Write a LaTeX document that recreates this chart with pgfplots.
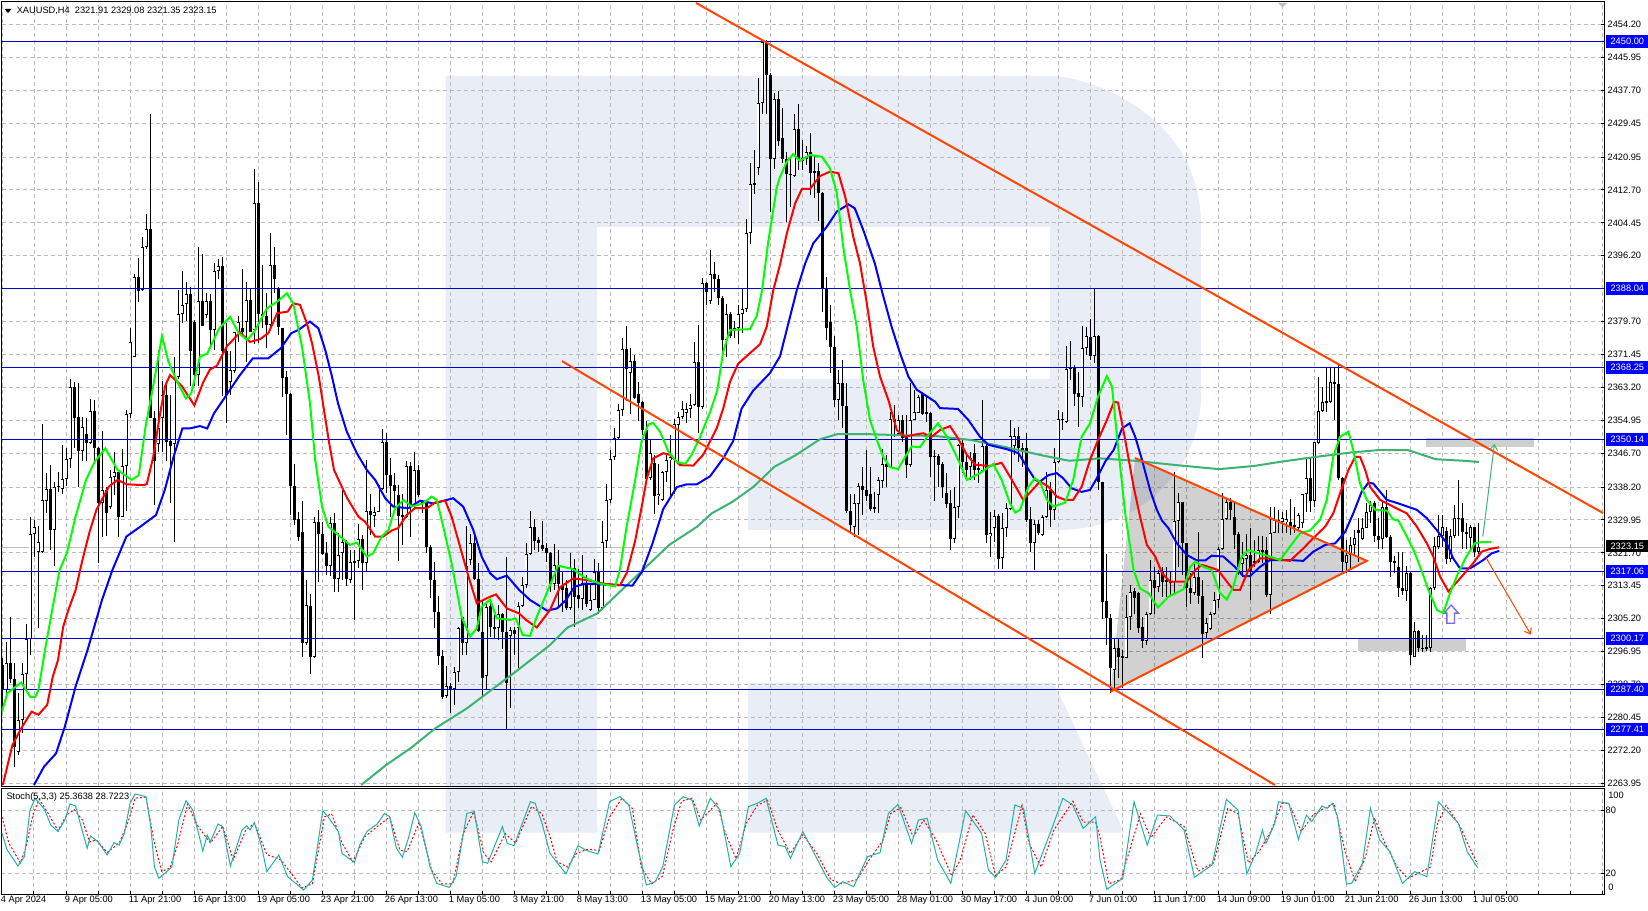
\documentclass[border=0pt]{standalone}
\usepackage{fontspec}
\setmainfont{Liberation Sans}
\usepackage{pgfplots}
\usepackage{pgfplotstable}
\pgfplotsset{compat=1.18}
\usetikzlibrary{arrows.meta}

\definecolor{wmark}{HTML}{E9EDF5}
\definecolor{gridc}{HTML}{BABABA}
\definecolor{hline}{HTML}{0000D8}
\definecolor{lblue}{HTML}{0000FF}
\definecolor{trend}{HTML}{FF4500}
\definecolor{lime}{HTML}{00FF00}
\definecolor{sgreen}{HTML}{3CB371}
\definecolor{teal2}{HTML}{20B2AA}
\definecolor{boxg}{HTML}{CFCFCF}
\definecolor{bidl}{HTML}{C0C0C0}
\definecolor{purp}{HTML}{7B68EE}
\newcommand{\lab}{\fontsize{6.95}{8.4}\selectfont}

% bar number, open, high, low, close
\pgfplotstableread{
i o h l c
0 2293.6 2295.3 2282 2287.3
1 2287.3 2299.4 2286 2294
2 2294 2305.7 2289 2290.2
3 2290.2 2294 2268.1 2273.1
4 2271.9 2286.5 2271 2279.8
5 2279.8 2294 2276.5 2291.3
6 2291.3 2303.9 2287.3 2300.2
7 2300 2330.7 2296 2326.5
8 2326.5 2330 2320.6 2328.1
9 2322 2328.4 2303 2324.4
10 2322 2354 2321.7 2335
11 2334.8 2341.7 2331.8 2337.6
12 2337.6 2343.8 2322.4 2327.5
13 2327.5 2339.5 2318.4 2338.2
14 2338.1 2342.1 2337 2338.6
15 2337.8 2348.7 2336.6 2340.2
16 2340.2 2348.1 2338.6 2345.3
17 2345.3 2365.4 2343 2363.4
18 2363.4 2364.5 2348 2355.6
19 2355.7 2364.3 2338.1 2347.3
20 2347.3 2355.8 2344.8 2353.2
21 2351.5 2355.6 2344.8 2349.3
22 2349.3 2360.2 2348.9 2357.4
23 2357.4 2360 2344.8 2348
24 2348 2348.2 2319.3 2334.1
25 2334.1 2352.4 2325.6 2337.4
26 2337.4 2338.1 2326 2331.8
27 2333.2 2342.6 2332.7 2340.8
28 2340.8 2347 2336.3 2342.1
29 2342.1 2342.1 2325.6 2330.8
30 2330.8 2347.7 2330.7 2343.5
31 2343.5 2357.5 2332.3 2356.5
32 2356.5 2378 2355.6 2374.6
33 2370.8 2391.6 2370.8 2390.8
34 2390.8 2395.6 2384.7 2387.5
35 2387.5 2400.8 2387.3 2398.3
36 2398.3 2406.6 2398 2403
37 2403 2431.7 2355.6 2355.6
38 2355.6 2357.4 2333.8 2344.8
39 2349 2372.6 2347 2353
40 2355.6 2364.8 2347 2361.4
41 2361.4 2364 2344.8 2349.6
42 2349.7 2361.4 2334.1 2348.6
43 2348.9 2370.8 2324.4 2365.9
44 2365.9 2387.6 2365.4 2381.5
45 2381.7 2392.3 2379.3 2383.8
46 2384 2389.6 2379.8 2386.6
47 2386.6 2388.3 2363.6 2372.4
48 2379.6 2380 2363.6 2366.3
49 2366.3 2398.4 2363.6 2384.8
50 2384.8 2396.6 2378.7 2378.7
51 2381.3 2386.9 2380.6 2384.8
52 2384.8 2386.5 2373 2377.7
53 2377.7 2394.5 2372.6 2392.3
54 2392.3 2395.4 2390.5 2393.6
55 2393.6 2395.9 2361 2372.3
56 2372.3 2379.3 2354.2 2361.4
57 2364.5 2372.3 2361.4 2367.5
58 2367.2 2377.2 2366.8 2377
59 2377 2381.1 2374.6 2379.7
60 2378 2392.9 2376.2 2377
61 2379.7 2389.6 2369.5 2385.1
62 2385.1 2387.8 2377 2377
63 2377.7 2418 2374 2409.5
64 2409.5 2414.7 2374.4 2381.5
65 2381.5 2393.9 2378 2381.2
66 2381 2387 2373 2378.9
67 2378.9 2402 2378.4 2393.9
68 2393.9 2398.3 2386.8 2390.3
69 2387.8 2388.5 2376.3 2378.4
70 2378.2 2378.2 2360.9 2365.6
71 2365.7 2367.3 2351.3 2361.5
72 2361.5 2361.7 2331.2 2338.6
73 2338.6 2344 2328.7 2330
74 2330.1 2331.9 2324.7 2325.8
75 2326.9 2334.6 2295.7 2299
76 2299 2314.9 2298.6 2308.6
77 2308.4 2311.4 2291.3 2295.7
78 2295.7 2330.8 2295.3 2329.4
79 2329.4 2332.5 2314.5 2326.4
80 2326.4 2329.5 2321.2 2321.4
81 2321.6 2324.5 2316.2 2318.3
82 2318.3 2330.8 2315.8 2329.1
83 2329.1 2331.6 2311.8 2315.1
84 2315.1 2326.6 2312 2321.3
85 2321.6 2337.6 2314.9 2324.5
86 2324.5 2324.9 2313.5 2315.1
87 2314.9 2322.4 2314.2 2319.3
88 2319.7 2322.4 2304.9 2319.3
89 2319.7 2328.9 2317.8 2325.1
90 2325.1 2326.2 2312.4 2319.1
91 2319.1 2345 2317 2332.3
92 2332.3 2336.6 2326.2 2331.2
93 2331 2333.3 2328.3 2332
94 2332 2339.1 2332 2338.7
95 2337.7 2352.8 2337.5 2349.4
96 2349.4 2351.7 2336.6 2341.2
97 2341.2 2345.4 2330.8 2338.5
98 2338.7 2341.7 2332.9 2337.2
99 2336.2 2338.7 2319.8 2331
100 2331.2 2336.6 2323.7 2330.8
101 2330.6 2344.8 2330.4 2343.5
102 2343.5 2344.6 2325.6 2333.7
103 2333.7 2347 2332.9 2342.5
104 2342.5 2343.8 2335.8 2336.2
105 2334 2335 2331.6 2334.5
106 2334.1 2334.6 2321.8 2323.1
107 2323.1 2323.7 2310.3 2314.8
108 2314.8 2319.5 2302.8 2307
109 2307 2310.9 2293.6 2295.9
110 2295.9 2297.4 2285.2 2285.7
111 2285.9 2293.3 2285.2 2288.2
112 2288.3 2289 2281.6 2287.6
113 2287.6 2293.2 2283.6 2291.9
114 2291.9 2303.2 2289.4 2302.8
115 2305.7 2305.7 2296 2299.2
116 2299.2 2328.4 2296 2318.4
117 2320 2326.5 2318.7 2324.3
118 2324.3 2326.6 2314.8 2315.1
119 2315.1 2319.3 2302 2302
120 2302 2309.9 2285.7 2290.4
121 2290.9 2309 2287.5 2308.2
122 2308.4 2309.9 2300.7 2303.2
123 2303.2 2306.1 2300.3 2302.7
124 2302.8 2308.6 2299.9 2306.3
125 2306.3 2306.7 2297.5 2302
126 2302 2320.8 2277.3 2289
127 2300.9 2303.2 2282.7 2302.4
128 2302.4 2303.2 2296.1 2301.4
129 2302.8 2309.5 2292.8 2308.5
130 2308.5 2315.7 2308.2 2313.6
131 2313.6 2324.3 2313 2321.4
132 2321.4 2332.2 2321.2 2328.2
133 2328.2 2330.1 2322.5 2324.8
134 2325 2325.7 2322 2324.3
135 2323.6 2329.7 2322.3 2322.8
136 2323 2324.3 2319.4 2321.6
137 2321.6 2322 2312 2313.8
138 2313.8 2323.9 2312.4 2318.6
139 2318.6 2322.5 2308.2 2313.8
140 2313.5 2317.2 2307 2312.5
141 2312.8 2314.9 2307.4 2307.8
142 2307.8 2321.6 2307.4 2317.8
143 2317.8 2320.3 2303.2 2310.7
144 2311.1 2317.6 2307.8 2310.1
145 2310.1 2321.2 2307.4 2314.1
146 2314.1 2316.2 2308.2 2309
147 2307.4 2314.1 2307.2 2310
148 2310 2320.1 2309.9 2317
149 2317 2319.1 2306.5 2307.8
150 2307.8 2329.7 2307.5 2324.5
151 2324.6 2339.1 2323 2334.9
152 2334.9 2347.6 2334.2 2345.2
153 2345.8 2353 2345.1 2350.5
154 2350.5 2359 2350.3 2357.5
155 2357.5 2375.6 2356.1 2372.8
156 2372.8 2378.5 2359.7 2367.7
157 2366.7 2373.1 2356.6 2369.8
158 2369.8 2371.3 2360.2 2360.6
159 2361.5 2364.6 2354.8 2359.2
160 2359.5 2359.7 2351.2 2352.5
161 2352.5 2354.8 2339.1 2340.3
162 2340.4 2350 2340 2346.7
163 2344.2 2346.3 2331.5 2336
164 2336 2344 2333.7 2336.6
165 2334.9 2342.2 2334.8 2342
166 2342 2346.7 2339.5 2344.9
167 2344.9 2351.2 2335.5 2345.8
168 2344.9 2355.2 2336.6 2353.9
169 2353.9 2357 2343.7 2355.9
170 2355.9 2359.7 2355.2 2357.9
171 2356.7 2359.2 2354.3 2357.7
172 2357.7 2361.5 2355.6 2358.8
173 2358.8 2374.5 2358.6 2369.5
174 2369.5 2378.9 2351.8 2358.2
175 2358.2 2390.6 2357.9 2389.4
176 2389.4 2389.6 2383.9 2387.2
177 2384.9 2397.6 2384 2391.7
178 2391.7 2394.6 2387 2390.3
179 2390.3 2391.5 2383.9 2385.5
180 2385.7 2386.1 2370.9 2375.2
181 2375.2 2384 2370.9 2381.6
182 2381.6 2382 2375.6 2376.2
183 2378 2379.8 2375.6 2377.3
184 2378.2 2383.9 2374 2381.6
185 2381.6 2388.2 2376.9 2382.8
186 2382.8 2405.4 2382.1 2401.8
187 2402 2419.5 2399.1 2414.3
188 2414.4 2422.8 2411.6 2414.2
189 2418.2 2440.7 2416.5 2434.6
190 2434.6 2450.3 2431.8 2449.9
191 2449.9 2450.3 2431.8 2441.6
192 2441.6 2442 2407.1 2420.4
193 2420.4 2436.9 2417.9 2435.4
194 2435.4 2437.6 2423.7 2425
195 2425.7 2433.2 2419.4 2420.6
196 2420.6 2422.3 2404.8 2416.7
197 2416.7 2420.6 2408.5 2416.6
198 2416.2 2431.8 2415.9 2427.9
199 2427.9 2434.3 2417.7 2420.2
200 2420.1 2425.2 2417.7 2420.8
201 2420.4 2423.7 2419 2422.2
202 2422.2 2426.9 2411.5 2416.9
203 2417.5 2421.5 2410.6 2417
204 2417.5 2419.4 2404.8 2411.9
205 2411.9 2412.3 2382.2 2388
206 2388 2390.8 2375.1 2378.2
207 2379.5 2383.9 2366.8 2373.3
208 2373.3 2376.1 2358.4 2360.1
209 2360.1 2367.6 2355 2364.2
210 2364.2 2370.1 2352.9 2358.6
211 2358.6 2364.2 2331.8 2332.2
212 2332.3 2336.6 2327 2328.7
213 2328.3 2336.6 2325.8 2334.1
214 2333.9 2339.3 2326.2 2338.6
215 2338.6 2343.3 2331.2 2337.5
216 2337.6 2347.5 2334.6 2336.1
217 2336.6 2343.3 2332.3 2332.7
218 2333.1 2337 2331.8 2332.8
219 2336.2 2340.8 2331.8 2340
220 2339.8 2347.7 2337.9 2344
221 2344 2346.3 2338.3 2343.3
222 2342.9 2357.1 2342.9 2355.2
223 2355.2 2358.8 2350.8 2354.6
224 2351.4 2356.3 2351.3 2355
225 2355 2356.3 2349.6 2350.4
226 2350.8 2356.3 2340.4 2343.8
227 2343.8 2364.2 2343.3 2355
228 2355 2362.6 2355 2357.1
229 2356.9 2361.3 2356.7 2360.7
230 2361.7 2362.1 2356.3 2356.5
231 2357 2361.3 2354.6 2356.6
232 2356.9 2357.1 2340.8 2345.8
233 2346 2347.5 2334.6 2345.9
234 2346 2346.5 2338.3 2343.8
235 2344 2344.6 2335.4 2338.1
236 2336.6 2341.7 2332.9 2334
237 2334.1 2337.5 2322.4 2325.1
238 2325.1 2338.3 2324.1 2333.3
239 2333.3 2349 2330.4 2348.8
240 2349.2 2350.4 2341.7 2344.6
241 2344.6 2346.3 2340 2342.5
242 2343.3 2347.1 2340 2345.4
243 2346.7 2349 2340 2342.5
244 2342.9 2344.6 2339.2 2342.5
245 2342.3 2360 2342.1 2348.4
246 2348.5 2349.2 2324.1 2326.2
247 2326 2332 2320.6 2326.6
248 2327.9 2332.5 2324.5 2331
249 2331 2331.5 2317.7 2320.1
250 2320.4 2331.6 2317.7 2327.9
251 2327.9 2334.1 2325.8 2332.9
252 2332.7 2355 2332.5 2350.9
253 2348.4 2353 2346.3 2351
254 2350.9 2353.2 2344.6 2348
255 2348 2349.2 2343.3 2347.1
256 2348 2351.7 2329.5 2330
257 2330.1 2333.3 2322 2324.1
258 2324.1 2330 2317.4 2328.9
259 2328.9 2330 2326.2 2326.8
260 2326.2 2331.2 2325.9 2330.8
261 2330.6 2342.1 2330.4 2337.6
262 2337.6 2339.6 2328.1 2332.5
263 2332.5 2347.9 2329.9 2344.4
264 2344.4 2357.5 2344.2 2355.2
265 2355.3 2357.1 2352.5 2355
266 2354.4 2373.6 2354.2 2367.8
267 2368.2 2374.9 2365 2367.7
268 2368.2 2368.8 2358.5 2361.5
269 2361.7 2367.1 2353.3 2360.7
270 2360.7 2378.6 2358.4 2373.2
271 2373.2 2378.4 2371.3 2376.1
272 2375.9 2380.3 2370.1 2371.1
273 2371.1 2387.8 2369.2 2376.1
274 2376.1 2376.3 2337.5 2339.4
275 2339.4 2339.6 2305 2309.5
276 2309.6 2321.4 2298.6 2305.5
277 2305.5 2306.5 2286.7 2292.9
278 2292.3 2300.3 2287.8 2297.8
279 2297.8 2300.3 2290.3 2295.7
280 2295.8 2297.4 2287.8 2295.5
281 2295.4 2311.1 2295.4 2305.7
282 2305.7 2313.7 2302.4 2312
283 2312.1 2312.8 2306.5 2310.5
284 2311.6 2312 2301.5 2302.8
285 2303 2305.7 2297.8 2299.7
286 2299.7 2307 2298.6 2306.5
287 2306.5 2319.9 2306.1 2314.9
288 2314.9 2318.2 2306.5 2313
289 2313.1 2317.4 2312 2316.6
290 2317 2318.2 2310.7 2314.5
291 2314.9 2318.2 2310.7 2314.3
292 2314.5 2317 2311.1 2314.2
293 2314.5 2341.9 2311.6 2329.8
294 2329.8 2336.6 2318.2 2334.4
295 2334.4 2334.5 2316.2 2324.3
296 2324.1 2324.1 2308.2 2312.8
297 2313 2316.6 2309 2311.7
298 2311.7 2319.5 2311.1 2315.7
299 2315.7 2326.9 2309 2310.9
300 2310.9 2314.9 2295.4 2301.4
301 2301.5 2305.3 2300.3 2304
302 2302.6 2307 2302.4 2306.3
303 2306.3 2312 2306.1 2310
304 2310 2323.3 2307.8 2322.8
305 2322.8 2336.6 2322.4 2330.1
306 2330.1 2335.4 2330 2334.5
307 2334.5 2335.4 2330 2332.5
308 2330.6 2334.5 2322.8 2326.2
309 2326.4 2327 2316.2 2318.2
310 2318.8 2324.5 2315.7 2320.3
311 2320.3 2326.4 2317 2321.2
312 2321.2 2327.9 2309.9 2317
313 2319.2 2324.9 2318.2 2319.6
314 2319.5 2325.9 2319.1 2322.4
315 2322.4 2325.9 2319.1 2322
316 2322.4 2325.8 2310.7 2311.1
317 2311.1 2333.3 2306.5 2326.8
318 2326.8 2333.3 2326.6 2330
319 2329.7 2332.5 2326.6 2329.9
320 2329.5 2332 2326.6 2330.4
321 2329.4 2332.5 2326.6 2330.2
322 2329.4 2335.1 2326.2 2328.3
323 2328.7 2333.3 2326.6 2328.3
324 2327.9 2331.6 2327.4 2331.2
325 2329.3 2336.6 2327.9 2336.4
326 2336.4 2345.4 2332 2340.4
327 2340.4 2345.8 2332 2334.8
328 2334.8 2349.6 2333.3 2349.4
329 2349.3 2365.7 2348.9 2357.4
330 2357.4 2363.4 2357.1 2359.5
331 2359.5 2368 2357.1 2359.7
332 2359.6 2368 2359.2 2364.6
333 2364.6 2368 2355 2364
334 2364 2369.2 2340 2340.4
335 2340.4 2340.8 2316.8 2319.5
336 2319.3 2324.9 2316.6 2321.2
337 2321.2 2325.8 2317.3 2323.8
338 2323.8 2327.4 2320.8 2325.5
339 2327.4 2330.4 2319.5 2326.8
340 2325.1 2330.4 2324.9 2328
341 2328 2334.1 2327.9 2332
342 2332 2334.6 2329.1 2333.7
343 2334.1 2334.6 2324.5 2326
344 2326 2330.4 2322.8 2324.9
345 2325.1 2334.6 2322.6 2333.3
346 2333.3 2337.5 2325.4 2325.8
347 2325.8 2326.2 2315.6 2319.5
348 2319.5 2320.8 2316.6 2319.3
349 2318.1 2322 2310.7 2313
350 2313 2321.8 2311.2 2312.2
351 2312.2 2318.4 2309.7 2316.6
352 2316.6 2317 2293.6 2296.1
353 2295.5 2304.5 2295.5 2302.1
354 2302.1 2302.4 2296.8 2297.9
355 2297.9 2301.1 2296.8 2297.7
356 2298 2301.1 2297 2297.7
357 2297.8 2313.2 2296.8 2312.8
358 2312.8 2325.8 2312.4 2323.4
359 2323.3 2331.2 2322.8 2326
360 2326 2331.2 2323.3 2328.3
361 2327.2 2328.3 2319 2320.2
362 2320.2 2327.8 2319.5 2326
363 2326 2333.7 2325.4 2330.4
364 2330.4 2340 2326 2330.3
365 2330.4 2334.1 2322.8 2327
366 2327 2329.1 2322.8 2326.4
367 2325.4 2328.7 2322.8 2328.3
368 2328.3 2328.3 2320.8 2322
369 2321.91 2329.08 2321.35 2323.15
}\ohlc

% bodies: column u is 1 for a rising candle
\pgfplotstablecreatecol[create col/expr={\thisrow{c}>=\thisrow{o} ? 1 : 0}]{u}{\ohlc}

\begin{document}
\begin{tikzpicture}
\path[use as bounding box] (0,0) rectangle (1236pt,682.5pt);

% watermark, in picture pixels
\begin{scope}[x=0.75pt,y=-0.75pt,yshift=682.5pt]
\fill[wmark,even odd rule]
  (445.5,76) -- (1055,76) .. controls (1100,80) and (1201,120) .. (1201,225)
  -- (1201,395) .. controls (1201,470) and (1140,530) .. (1058,530)
  -- (748,530) -- (748,379) -- (1050,379) -- (1050,227) -- (597,227)
  -- (597,832.7) -- (445.5,832.7) -- cycle;
\fill[wmark] (748,683) -- (1054,683) -- (1124.5,832.7) -- (748,832.7) -- cycle;
\end{scope}

\begin{axis}[
  at={(1.125pt,93pt)}, anchor=south west,
  scale only axis, width=1201.9pt, height=588pt,
  xmin=-0.125, xmax=400.5, ymin=2263.25, ymax=2459.84,
  axis line style={black,line width=0.75pt},
  no markers,
  xtick={0,16,...,400}, minor x tick num=1, xticklabels=\empty,
  x tick style={draw=none}, minor x tick style={draw=none},
  grid=both,
  grid style={gridc,line width=0.75pt,dash pattern=on 3pt off 2.25pt},
  minor grid style={gridc,line width=0.75pt,dash pattern=on 3pt off 2.25pt},
  ytick={2454.20,2445.95,2437.70,2429.45,2420.95,2412.70,2404.45,2396.20,2387.95,2379.70,2371.45,2363.20,2354.95,2346.70,2338.20,2329.95,2321.70,2313.45,2305.20,2296.95,2288.70,2280.45,2272.20,2263.95},
  yticklabels={2454.20,2445.95,2437.70,2429.45,2420.95,2412.70,2404.45,2396.20,,2379.70,2371.45,2363.20,2354.95,2346.70,2338.20,2329.95,2321.70,2313.45,2305.20,2296.95,2288.70,2280.45,2272.20,2263.95},
  ytick pos=right, yticklabel pos=right,
  y tick style={black,line width=0.75pt},
  major tick length=2.25pt,
  yticklabel style={font=\lab,anchor=west,xshift=2.5pt,inner sep=0pt},
]
% gray shapes first
\addplot[fill=black,fill opacity=0.18,draw=none] coordinates {(283.25,2345.5)(341.2,2319.7)(277.1,2286.9)} --cycle;
\addplot[fill=boxg,draw=none] coordinates {(356,2350.5)(383,2350.5)(383,2348.2)(356,2348.2)} --cycle;
\addplot[fill=boxg,draw=none] coordinates {(339,2300.2)(366,2300.2)(366,2297)(339,2297)} --cycle;
\addplot[bidl,line width=0.9pt] coordinates {(-1,2323.15)(401,2323.15)};

% candles: wicks, then bodies
\addplot[draw=none,mark=none,error bars/.cd,y dir=both,y explicit,error mark=none,
  error bar style={draw=black,solid,line width=0.75pt,line cap=butt}]
  table[x=i,y expr=(\thisrow{h}+\thisrow{l})/2,y error expr=(\thisrow{h}-\thisrow{l})/2] {\ohlc};
\addplot[draw=none,mark=none,error bars/.cd,y dir=both,y explicit,error mark=none,
  error bar style={draw=black,solid,line width=2.25pt,line cap=butt}]
  table[x=i,y expr=(\thisrow{o}+\thisrow{c})/2,y error expr={max(abs(\thisrow{c}-\thisrow{o})/2,0.15)}] {\ohlc};
\addplot[draw=none,mark=none,error bars/.cd,y dir=both,y explicit,error mark=none,
  error bar style={draw=white,solid,line width=0.8pt,line cap=butt}]
  table[x=i,y expr=(\thisrow{o}+\thisrow{c})/2,y error expr={\thisrow{u}*max(abs(\thisrow{c}-\thisrow{o})/2-0.25,0)}] {\ohlc};

% horizontal levels
\addplot[hline,line width=0.85pt] coordinates {(-1,2450)(401,2450)};
\addplot[hline,line width=0.85pt] coordinates {(-1,2388.04)(401,2388.04)};
\addplot[hline,line width=0.85pt] coordinates {(-1,2368.25)(401,2368.25)};
\addplot[hline,line width=0.85pt] coordinates {(-1,2350.14)(401,2350.14)};
\addplot[hline,line width=0.85pt] coordinates {(-1,2317.06)(401,2317.06)};
\addplot[hline,line width=0.85pt] coordinates {(-1,2300.17)(401,2300.17)};
\addplot[hline,line width=0.85pt] coordinates {(-1,2287.40)(401,2287.40)};
\addplot[hline,line width=0.85pt] coordinates {(-1,2277.41)(401,2277.41)};

% long average
\addplot[sgreen,line width=1.5pt] coordinates {(89.8,2263.5)(96,2268.5)(102.1,2272.7)(108.3,2277.7)(116.2,2282.7)(122.3,2287.3)(128.4,2291.9)(137,2298.6)(141.4,2303)(148.8,2306.5)(154.5,2312)(160.2,2317.4)(166.8,2323.7)(173.8,2328.3)(177.4,2331.6)(182.6,2334.5)(187.9,2338.3)(193.1,2343.3)(198.4,2346.2)(204.5,2350.2)(208.9,2351.5)(215.9,2351.5)(224.7,2351.2)(233.5,2351)(242.3,2350)(251,2348.2)(259.8,2346.2)(266.8,2344.8)(274.5,2345.4)(283.2,2344.8)(293.7,2343.7)(304.2,2342.7)(313,2343.5)(320,2344.6)(328.7,2345.8)(337.4,2346.9)(344.4,2347.5)(351.4,2347.5)(358.4,2345.2)(365.4,2344.8)(369.2,2344.5)};

% blue average
\addplot[blue,line width=1.5pt] coordinates {(8,2263.5)(10.5,2268.1)(13.5,2271.4)(15.7,2278.1)(18.4,2288.2)(21.4,2297.4)(25,2309.9)(27.6,2317.4)(31.1,2325.8)(34.6,2328.3)(38.5,2331.2)(40.7,2337.5)(42.9,2345.8)(45.1,2352.9)(46.9,2352.9)(49.5,2353.5)(51.3,2352.9)(53,2356.7)(55.6,2360.5)(59.2,2365.9)(62.7,2370.5)(66.6,2370.5)(69.7,2373)(72.3,2376.8)(74.1,2377.6)(77,2379.7)(79.1,2378)(80.8,2372.6)(82.4,2366.3)(84,2359.2)(86.2,2352.1)(88.7,2346.7)(91.2,2342.5)(93.3,2340)(95.8,2335.4)(97.8,2333.3)(101.6,2332.9)(104.5,2334.8)(107.8,2334.1)(112.8,2335.4)(115.3,2333.3)(117.8,2327.5)(119.9,2320.8)(122,2316.6)(123.7,2315.1)(126.2,2316)(129.3,2312.4)(132,2309.9)(136.3,2307.2)(138.8,2307.8)(141,2309.9)(143.1,2313.2)(145.8,2314)(150.2,2313.8)(157.6,2313.5)(160,2317)(162.6,2324)(165.3,2332.7)(168.7,2338.2)(171.2,2338.9)(173.7,2338.9)(177,2340.9)(180.3,2345.4)(182.8,2349.8)(184.9,2357.9)(187.8,2362.4)(192,2366.8)(194.5,2371)(196.6,2379.3)(198.7,2387.6)(200.8,2394.3)(202.8,2399.3)(206.2,2403.5)(208.7,2407.3)(211.6,2409.1)(213.2,2408.1)(215.3,2402.7)(218.2,2394.3)(219.9,2387.6)(222.4,2378.4)(224.5,2371.8)(226.6,2365.9)(228.7,2362.6)(233.3,2359.6)(234.5,2358)(239,2357.8)(241.6,2355)(244.5,2350.8)(246.6,2348.8)(251.2,2347.7)(254.1,2346.7)(256.2,2343.3)(258.3,2340)(259.5,2339.6)(261.6,2341.2)(263.7,2341.7)(265.3,2340.4)(267.4,2337.9)(269.9,2337)(272,2337.5)(273.7,2340.4)(275.8,2344.6)(277.9,2347.5)(280,2352.9)(281.9,2354.2)(283.3,2350.8)(285,2345)(287,2337.5)(288.7,2332.5)(290,2329.8)(291.6,2327.9)(293.7,2324.1)(296.2,2321.2)(298.7,2319.8)(300.8,2319.8)(302.4,2321)(305.3,2320.8)(308.2,2318.2)(310.3,2315.9)(312,2315.9)(314.5,2318.2)(317,2319.9)(322,2319.9)(325.3,2319.7)(327.8,2322)(330.8,2323.7)(333.3,2324.1)(335.8,2327)(337.8,2331.6)(339.9,2337)(341.6,2339.3)(342.8,2339.1)(346.2,2335)(349.1,2334.1)(353.7,2332.5)(356.2,2330.4)(358.7,2327.4)(361.2,2324.1)(362.8,2320.3)(364.5,2317.8)(367,2317.8)(370.3,2319.9)(372.4,2321.6)(374.3,2322.2)};

% red average
\addplot[red,line width=1.5pt] coordinates {(0.2,2263.5)(2.6,2273.5)(4.8,2277.7)(7.4,2281.9)(9.1,2281.1)(11.3,2283.6)(12.7,2290.7)(14,2294.8)(15.3,2303.2)(16.6,2307.4)(18.4,2312.4)(20.1,2319.9)(21.9,2327)(23.6,2332.5)(26.7,2338.3)(28.9,2340)(31.1,2338.9)(35.5,2338.7)(36.2,2339)(37.8,2345.7)(39.5,2356.5)(40.8,2363.6)(42,2366.3)(44.9,2363.6)(48.1,2358.7)(50.3,2364.5)(52,2367.7)(53.7,2368.6)(56.2,2373.5)(59.5,2377)(62,2374.6)(64.5,2375.3)(66.6,2376.8)(68.8,2381.8)(71.4,2382.2)(72.8,2384.3)(74.5,2383.9)(76.2,2379.3)(77.5,2374.3)(79.2,2365.9)(80.5,2357.5)(81.8,2349.2)(83,2342.5)(86.3,2335.4)(89.1,2330.8)(90.8,2329.5)(93.3,2325.8)(95.3,2325.8)(97.4,2327.3)(99,2327.9)(101.2,2331.2)(103.2,2332.9)(106.2,2332.9)(108.2,2334.3)(110.8,2334.8)(112.4,2330.8)(114.5,2323.3)(116.6,2315.8)(118.7,2309.1)(122,2310.7)(123.5,2311.3)(126.2,2307.8)(129.3,2306.5)(131,2304.9)(133.7,2303)(137,2307.4)(139.5,2313.1)(142.8,2315.3)(146.2,2314.9)(150.3,2314)(154.5,2313.6)(156.2,2316.7)(158.3,2324.8)(160,2333.7)(161.2,2340.4)(162.8,2345.4)(165.3,2346.7)(167,2346.3)(169.5,2343.7)(172.8,2343.6)(175.3,2346.3)(178.7,2353)(180.3,2357.9)(182,2364.6)(184,2369.1)(187,2371.8)(189.5,2374)(191.2,2378.5)(192.8,2387.5)(194.5,2394)(196.2,2401.8)(198.3,2409.4)(200,2413)(202,2413)(204.5,2416.2)(207,2417.3)(209.1,2416.9)(210.8,2411)(212.8,2401)(214.5,2394.3)(216.2,2384.3)(217.8,2373.4)(219.5,2365.9)(221.6,2360)(223.7,2352.5)(225.8,2350.8)(227.8,2351.3)(230.3,2351.7)(232.4,2350.8)(234.5,2352.5)(237,2353.5)(239,2350.4)(241.2,2346.3)(243.3,2343.8)(247,2343.5)(249.9,2344.3)(252,2340.8)(255.3,2335)(259.5,2339.6)(261.6,2338.3)(263.7,2335.8)(265.8,2335)(267.8,2335)(269.9,2338.3)(272,2345)(274,2350)(276.2,2355)(278,2359.6)(279,2359.4)(280.8,2350)(282.9,2338.3)(284.5,2330.8)(286.2,2323.7)(288.3,2320.8)(290,2316.6)(292,2314.5)(296.2,2314.5)(298.3,2317.4)(300,2318.7)(302,2318.1)(304,2317.4)(306.2,2314.5)(307.9,2312.4)(309.5,2312.4)(311.6,2317.4)(314.5,2320.3)(317.5,2320.3)(322,2319.7)(325.3,2322.8)(327.8,2325.4)(330.8,2328.3)(332.8,2331.6)(334.5,2336.6)(336.6,2342.5)(338.3,2345.8)(339.5,2345.8)(340.8,2342.5)(342,2338.3)(344.5,2335)(347.8,2333.3)(351.2,2331.6)(353.7,2328.3)(356.2,2324.1)(357.8,2320.8)(359.5,2315.8)(361.6,2312)(364.5,2315.3)(367.8,2319.1)(369.9,2322)(372,2322.7)(374.3,2323.1)};

% green average
\addplot[lime,line width=1.5pt] coordinates {(0,2281.9)(1.3,2286.5)(4.8,2289.2)(7.1,2285.6)(8.3,2285.6)(9.1,2287.3)(10.9,2298.2)(12.7,2308.2)(14.4,2317.4)(16.2,2321.6)(18.4,2330.8)(21,2340)(23.2,2344.6)(25.8,2347.9)(28.9,2342.5)(32.4,2340)(34.2,2341.2)(35.9,2353.4)(37.7,2363)(40,2376.1)(41.6,2369.7)(43.8,2364.6)(46,2360.4)(47.3,2361.7)(49.5,2370.9)(51.3,2371.7)(54.3,2378)(57,2380.9)(59.2,2376.8)(61.3,2375.1)(63.1,2377.2)(66.2,2383)(68.8,2384.7)(71.2,2386.8)(72.8,2384.3)(75,2373.4)(77,2359.2)(78.3,2345)(80,2333.3)(81.6,2328.3)(84.5,2325.8)(87,2323.7)(88.7,2324.3)(91.2,2320.8)(92.8,2321.6)(94.9,2325.8)(96.6,2327.5)(98.3,2332.9)(100.4,2335)(102.4,2333.3)(105.3,2334.1)(107.4,2335.8)(108.7,2335)(110.3,2328.3)(112.4,2319.1)(114.9,2305.7)(117,2300.7)(118.7,2302.8)(119.9,2308.2)(122,2310)(123.7,2305.3)(127,2304.9)(128.4,2305.3)(130.2,2301.1)(132,2300.9)(133.7,2305.7)(137,2313.6)(139,2318.5)(142.8,2317.6)(146,2315.3)(149.5,2314)(153.3,2313.3)(154.5,2317.6)(156,2327.4)(158.3,2340)(159.9,2349.8)(161.6,2353.9)(162.8,2354.3)(164.5,2352.1)(166.6,2347.1)(168.7,2344.5)(170.8,2344)(172.4,2346.3)(174.5,2350.7)(177,2357)(178.8,2362.4)(180.3,2372.2)(182,2377.6)(187,2377.8)(188.7,2381.2)(190,2387.5)(191.6,2400)(193.7,2413.4)(194.5,2416)(196.2,2419.8)(197.8,2421.7)(199.5,2420)(202,2421.5)(205,2421)(207,2418.1)(208.7,2411.9)(210.3,2398.5)(212,2387.6)(213.7,2378.4)(215.3,2365)(217,2355)(218.7,2350)(220.3,2345.8)(222,2343.2)(224,2342.7)(225.8,2345.8)(227.4,2348.4)(229.5,2348.2)(231.6,2351.3)(234,2354.2)(236.2,2350.9)(238.7,2345.8)(241.2,2340)(244.5,2341.7)(247.8,2344)(249.9,2340)(252,2334.1)(253.3,2331.8)(254.5,2332.5)(256.6,2338.3)(258.2,2340.4)(259.5,2339.5)(261.2,2335)(262.8,2333.3)(265.8,2334.3)(267.8,2340)(269.9,2350.8)(272,2354.2)(274,2360.9)(276.2,2366)(277.5,2363.4)(279,2348.3)(280.8,2331.6)(282.9,2317.4)(284.5,2312.8)(286.6,2311.6)(289,2308)(291.6,2310.7)(295.4,2312.6)(297,2318.2)(298.4,2319.5)(300.3,2318.2)(302.4,2317.4)(304.5,2311.6)(306.2,2310)(307.8,2313.2)(309.9,2320.8)(311.6,2322.4)(314,2321.6)(317,2320.8)(319.5,2319.9)(322,2323.3)(324.5,2326.6)(327,2327.3)(329.5,2330)(331.2,2335)(332.8,2345.8)(334.5,2350.8)(336.6,2352.1)(337.8,2347.5)(339.5,2339.1)(341.2,2335)(343.3,2332.5)(346.2,2332.3)(347.8,2330.1)(349.1,2329.8)(351.2,2325.8)(352.9,2322.4)(354.5,2318.3)(356.6,2312.4)(358.7,2307.4)(360.3,2306.6)(362,2311.6)(364,2316.6)(366.1,2320.8)(368.2,2324.1)(369.9,2324.4)(372.2,2324.4)};

% drawn trend objects
\addplot[trend,line width=1.5pt] coordinates {(173.5,2459.6)(400.25,2331.7)};
\addplot[trend,line width=1.5pt] coordinates {(140,2369.8)(318.25,2263.5)};
\addplot[trend,line width=1.5pt] coordinates {(283.25,2345.5)(341.2,2319.7)(277.1,2286.9)};
\addplot[sgreen,line width=0.75pt,-{Straight Barb[length=4pt,width=6pt]}] coordinates {(370.2,2325.8)(373.1,2349)};
\addplot[trend,line width=0.75pt,-{Straight Barb[length=4pt,width=6pt]}] coordinates {(371,2320.5)(382.2,2301.2)};
\addplot[draw=purp,fill=white,line width=1pt] coordinates {(362.25,2308.64)(364.1,2306.6)(363.1,2306.6)(363.1,2304.05)(361.2,2304.05)(361.2,2306.6)(360.6,2306.6)} --cycle;
\end{axis}

\begin{axis}[
  at={(1.125pt,12pt)}, anchor=south west,
  scale only axis, width=1201.9pt, height=79.5pt,
  xmin=-0.125, xmax=400.5, ymin=0.2, ymax=101.7,
  axis line style={black,line width=0.75pt},
  no markers,
  xtick={0,16,...,400}, minor x tick num=1,
  xticklabels={4 Apr 2024,9 Apr 05:00,11 Apr 21:00,16 Apr 13:00,19 Apr 05:00,23 Apr 21:00,26 Apr 13:00,1 May 05:00,3 May 21:00,8 May 13:00,13 May 05:00,15 May 21:00,20 May 13:00,23 May 05:00,28 May 01:00,30 May 17:00,4 Jun 09:00,7 Jun 01:00,11 Jun 17:00,14 Jun 09:00,19 Jun 01:00,21 Jun 21:00,26 Jun 13:00,1 Jul 05:00,,},
  xtick pos=bottom,
  x tick style={black,line width=0.75pt},
  minor x tick style={black,line width=0.75pt},
  major tick length=2.25pt, minor tick length=2.25pt,
  xticklabel style={font=\lab,anchor=north west,xshift=-1pt,yshift=-1pt,inner sep=0pt},
  ytick={20,80}, yticklabels={20,80},
  ytick pos=right, yticklabel pos=right,
  y tick style={black,line width=0.75pt},
  yticklabel style={font=\lab,anchor=west,xshift=1pt,inner sep=0pt},
  grid=both,
  grid style={gridc,line width=0.75pt,dash pattern=on 3pt off 2.25pt},
  minor grid style={gridc,line width=0.75pt,dash pattern=on 3pt off 2.25pt},
]
\addplot[red,line width=0.75pt,dash pattern=on 1.5pt off 1.5pt] coordinates {(0,74)(1.7,49)(4.6,30)(6,45)(7.8,77)(9.3,91)(11.3,79)(14,61)(16.2,76)(18.1,81)(20.1,71)(21.9,50)(23.6,52)(26.3,40)(29.3,49)(31.5,69)(33.3,92)(36,93)(38.1,49)(39.9,22)(42,25)(43.8,46)(46.4,86)(49,65)(52.1,49)(55.2,65)(57.8,33)(60.9,61)(63.1,68)(66.2,38)(69.7,33)(72.3,20)(75,6)(77.6,10)(80.6,74)(82.4,77)(85,49)(87.7,31)(90.7,55)(94.2,66)(96.9,74)(99.5,42)(101.3,41)(104.3,69)(107.4,23)(110,10)(112.7,10)(115.3,58)(117.9,79)(120.5,39)(122.3,31)(125.8,58)(128.4,49)(132.4,84)(135,77)(137,55)(138.8,31)(141.4,26)(143.6,39)(146.2,43)(149.3,42)(151.9,74)(155,92)(157.6,82)(159.8,26)(162.4,10)(165.1,17)(167.7,61)(169.9,89)(172.5,92)(174.7,71)(178.7,87)(180.9,58)(183.5,34)(186.1,68)(188.8,85)(191.4,90)(194,61)(197.1,39)(200.2,57)(203.7,39)(207.2,14)(209.8,10)(213.8,14)(216.8,33)(220.3,52)(222.1,77)(224.7,83)(227.8,55)(230.4,71)(233.5,52)(237.4,18)(239.6,33)(242.7,76)(245.8,58)(248.4,18)(251,26)(255,85)(256.7,49)(259.8,26)(262.9,61)(267.7,89)(270.3,69)(273.4,69)(274.5,55)(276.7,10)(279.7,14)(281.9,42)(284.6,77)(287.2,54)(291.1,74)(295.5,65)(299,22)(302.9,30)(306.4,82)(309,77)(311.6,30)(314.3,41)(317.3,61)(320,87)(321.7,87)(324.8,60)(327.8,76)(330.4,82)(333,87)(335.7,42)(338.3,12)(340.9,36)(343.1,73)(345.7,49)(348.8,26)(351.4,15)(354,20)(357.1,26)(358.9,68)(361,85)(364.5,65)(366.7,46)(368.9,28.7)};
\addplot[teal2,line width=0.75pt] coordinates {(0,58.3)(1.3,42.3)(4,27)(5.6,36)(7,80.6)(8.3,91.8)(10.5,82)(12.2,66.3)(14,60)(15.7,71)(17,86.4)(18.4,84.5)(19.9,63)(21.3,44)(22.1,55.7)(24,50.3)(26.3,37.6)(28,49.4)(29.3,47)(30.6,58.3)(32,87)(33.3,96)(36,93.4)(37.2,64.7)(38.1,26.4)(39.2,15.2)(41.2,21.6)(42.5,26.4)(44.2,71)(46,89.6)(47.7,80.6)(50.2,41.4)(51.3,56.7)(52.1,50.3)(54,67.2)(55.2,64.7)(57.1,27)(60,61.5)(61.2,65.6)(62,61.5)(63.1,68.5)(64.9,45.5)(66.2,21.6)(69.2,37.6)(71.4,16.8)(75.4,4)(77.6,13.6)(80.2,80)(81.5,74.2)(84.1,60)(85,39)(88.1,30.5)(89.4,47)(91.2,60)(93.8,67.2)(95.6,77.4)(96.9,74.2)(98.6,44)(100.1,35.3)(101.7,55)(103.2,78)(104.8,64.7)(107,26.4)(108.7,10.4)(111.8,6.6)(113.5,16.8)(116.2,77.4)(118.1,79)(120.1,31.2)(121.4,29.6)(125.1,64.7)(126.3,48.7)(128,46.5)(132.1,88.6)(133.3,87)(135,67.9)(137,39)(141,19.4)(144,46.5)(146.2,41.7)(149,38.5)(151.9,88.6)(154.5,93.4)(156.7,85.4)(158.9,45.5)(161.1,8.8)(163.3,12)(165.2,26.4)(168.1,85.4)(170.3,93.4)(172.5,90.2)(174.3,65.3)(177.1,91.8)(179.5,80.6)(182.2,26.4)(184.4,39)(186.6,83.8)(188.8,87)(191,91.8)(194,47)(195.8,45.5)(197.1,34.4)(200.2,60)(206.3,15.2)(208.2,6.6)(210.2,12)(212.9,7.2)(216.4,36)(219.5,39.8)(221.6,77.4)(224,86)(227.4,48.7)(229.1,71)(231.3,72.6)(233.9,32.8)(237.2,10.4)(240.9,80)(244.9,58.3)(246.6,23.2)(248.4,16.2)(251,32.8)(253.2,85.4)(255.4,82.2)(258.2,20)(262,58.3)(265.2,91.8)(267.7,85.4)(270.3,63)(273.4,74.2)(274.5,32.8)(276.2,4.7)(280.2,15.2)(283,88.6)(286.3,47)(288.9,75.8)(292,74.9)(295.5,61.5)(298.1,16.2)(302.5,28)(306.1,90.8)(309,80.6)(311.2,19.4)(313.4,39)(315.1,61.5)(316,48.7)(318.2,67.9)(319.1,88.6)(321.7,87)(324.1,52.5)(326.1,75.8)(327.4,69.5)(330,84.5)(331.3,82.2)(332.6,87)(333.9,74.2)(336.1,9.8)(337.4,10.4)(340.1,29.6)(342.1,82.2)(344.4,52)(347,40.7)(350.1,10.4)(353.2,21.6)(356.2,16.8)(359.1,88.6)(360.6,82.2)(364.1,67.9)(366.3,40.7)(368.9,25.4)};
\end{axis}

% text and small objects on top, in picture pixels
\begin{scope}[x=0.75pt,y=-0.75pt,yshift=682.5pt]
\fill[black] (4.5,9) -- (11.5,9) -- (8,13) -- cycle;
\fill[bidl] (1278,3) -- (1287,3) -- (1282.5,7.5) -- cycle;
\node[anchor=west,inner sep=0pt,font=\lab] at (16.5,10.5) {XAUUSD,H4\ \ 2321.91 2329.08 2321.35 2323.15};
\node[anchor=west,inner sep=0pt,font=\lab] at (6.3,797) {Stoch(5,3,3) 25.3638 28.7223};
\node[anchor=west,inner sep=0pt,font=\lab] at (1608,795.5) {100};
\node[anchor=west,inner sep=0pt,font=\lab] at (1608,887.5) {0};
\foreach \yy/\tt in {41.25/2450.00,288.3/2388.04,367.3/2368.25,439.5/2350.14,571.4/2317.06,638.8/2300.17,689.7/2287.40,729.5/2277.41}{
  \fill[lblue] (1606,\yy-6.3) rectangle (1647.5,\yy+6.3);
  \node[anchor=west,inner sep=0pt,font=\lab,text=white] at (1610.3,\yy) {\tt};
}
\fill[black] (1606,540.5) rectangle (1647.5,552.5);
\node[anchor=west,inner sep=0pt,font=\lab,text=white] at (1610.3,546.5) {2323.15};
\end{scope}
\end{tikzpicture}
\end{document}
